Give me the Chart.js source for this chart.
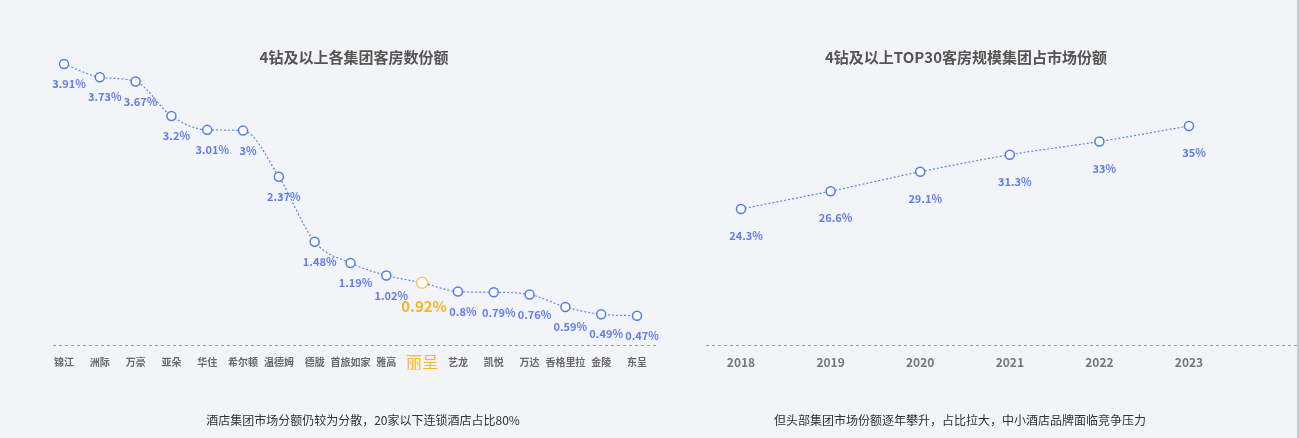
<!DOCTYPE html>
<html>
<head>
<meta charset="utf-8">
<script src="https://cdn.jsdelivr.net/npm/chart.js@4"></script>
<style>
  html, body { margin:0; padding:0; background:#f3f4f7; }
  body { width:1299px; height:438px; position:relative; overflow:hidden;
         font-family:"Microsoft YaHei","Noto Sans CJK SC",sans-serif; }
  .wrap { position:absolute; top:0; height:438px; }
  .title { position:absolute; top:46px; font-size:15px; font-weight:bold; color:#555;
           white-space:nowrap; transform:translateX(-50%); }
  .cap { position:absolute; top:411px; font-size:12px; color:#333; white-space:nowrap;
         transform:translateX(-50%); }
  .vline { position:absolute; left:1297px; top:0; width:2px; height:438px; background:#c9cace; }
</style>
</head>
<body>
<div class="wrap" style="left:0;width:680px;"><canvas id="c1" width="680" height="438"></canvas></div>
<div class="wrap" style="left:680px;width:619px;"><canvas id="c2" width="619" height="438"></canvas></div>
<div class="title" style="left:354px;">4钻及以上各集团客房数份额</div>
<div class="title" style="left:966px;">4钻及以上TOP30客房规模集团占市场份额</div>
<div class="cap" style="left:363px;">酒店集团市场分额仍较为分散，20家以下连锁酒店占比80%</div>
<div class="cap" style="left:960px;">但头部集团市场份额逐年攀升，占比拉大，中小酒店品牌面临竞争压力</div>
<div class="vline"></div>
<script>
// ---- data ----
const groupCategories = ['锦江','洲际','万豪','亚朵','华住','希尔顿','温德姆','德胧','首旅如家','雅高','丽呈','艺龙','凯悦','万达','香格里拉','金陵','东呈'];
const groupShares = [3.91, 3.73, 3.67, 3.2, 3.01, 3, 2.37, 1.48, 1.19, 1.02, 0.92, 0.8, 0.79, 0.76, 0.59, 0.49, 0.47];
const highlightCategory = '丽呈';

const years = ['2018','2019','2020','2021','2022','2023'];
const top30Shares = [24.3, 26.6, 29.1, 31.3, 33, 35];

// ---- styles ----
const FONT = '"Microsoft YaHei","Noto Sans CJK SC",sans-serif';
const BLUE = '#4f7ef0';
const LABEL_BLUE = '#5f7df0';
const ORANGE = '#f8b526';

function makePlugin(opts) {
  return {
    id: 'decor',
    beforeDatasetsDraw(chart) {
      const ctx = chart.ctx, a = chart.chartArea;
      ctx.save();
      ctx.strokeStyle = '#9a9a9a';
      ctx.lineWidth = 1;
      ctx.setLineDash([3, 3]);
      ctx.beginPath();
      ctx.moveTo(a.left - opts.axisLeft, a.bottom + 0.5);
      ctx.lineTo(a.right + opts.axisRight, a.bottom + 0.5);
      ctx.stroke();
      ctx.restore();
    },
    afterDatasetsDraw(chart) {
      const ctx = chart.ctx, a = chart.chartArea;
      const meta = chart.getDatasetMeta(0);
      const xs = chart.scales.x;
      const labels = chart.data.labels;
      const values = chart.data.datasets[0].data;
      ctx.save();
      ctx.textAlign = 'center';
      ctx.textBaseline = 'middle';
      meta.data.forEach((pt, i) => {
        const hl = labels[i] === opts.highlight;
        ctx.font = hl ? 'bold 15px ' + FONT : 'bold ' + opts.labelSize + 'px ' + FONT;
        ctx.fillStyle = hl ? ORANGE : LABEL_BLUE;
        ctx.fillText(values[i] + '%', pt.x + (hl ? 2 : 5), pt.y + (hl ? 23 : opts.labelDy));
        // category tick labels
        const tx = xs.getPixelForValue(i);
        ctx.font = hl ? '16px ' + FONT : 'bold ' + opts.tickSize + 'px ' + FONT;
        ctx.fillStyle = hl ? ORANGE : opts.tickColor;
        ctx.fillText(labels[i], tx, a.bottom + 17);
      });
      ctx.restore();
    }
  };
}

function pointColors(labels, hl, normal, special) {
  return labels.map(l => l === hl ? special : normal);
}

new Chart(document.getElementById('c1'), {
  type: 'line',
  data: {
    labels: groupCategories,
    datasets: [{
      data: groupShares,
      borderColor: '#5b86ee',
      borderWidth: 1.2,
      borderDash: [2, 2],
      cubicInterpolationMode: 'monotone',
      pointRadius: groupCategories.map(l => l === highlightCategory ? 5.5 : 4.5),
      pointBorderWidth: 1.5,
      pointBackgroundColor: '#ffffff',
      pointBorderColor: pointColors(groupCategories, highlightCategory, BLUE, '#f6c56a'),
      clip: false
    }]
  },
  options: {
    responsive: false,
    animation: false,
    layout: { padding: { left: 64, right: 43, top: 64, bottom: 93 } },
    plugins: { legend: { display: false }, tooltip: { enabled: false } },
    scales: {
      x: { display: false, offset: false },
      y: { display: false, min: 0.07, max: 3.91 }
    }
  },
  plugins: [makePlugin({ axisLeft: 11, axisRight: 22, labelDy: 20, labelSize: 11, tickSize: 10, tickColor: '#6a6a6a', highlight: highlightCategory })]
});

new Chart(document.getElementById('c2'), {
  type: 'line',
  data: {
    labels: years,
    datasets: [{
      data: top30Shares,
      borderColor: '#5b86ee',
      borderWidth: 1.2,
      borderDash: [2, 2],
      cubicInterpolationMode: 'monotone',
      pointRadius: 4.5,
      pointBorderWidth: 1.5,
      pointBackgroundColor: '#ffffff',
      pointBorderColor: BLUE,
      clip: false
    }]
  },
  options: {
    responsive: false,
    animation: false,
    layout: { padding: { left: 61, right: 110, top: 126, bottom: 93 } },
    plugins: { legend: { display: false }, tooltip: { enabled: false } },
    scales: {
      x: { display: false, offset: false },
      y: { display: false, min: 6.77, max: 35 }
    }
  },
  plugins: [makePlugin({ axisLeft: 35, axisRight: 108, labelDy: 27, labelSize: 11, tickSize: 12, tickColor: '#777777', highlight: null })]
});
</script>
</body>
</html>
